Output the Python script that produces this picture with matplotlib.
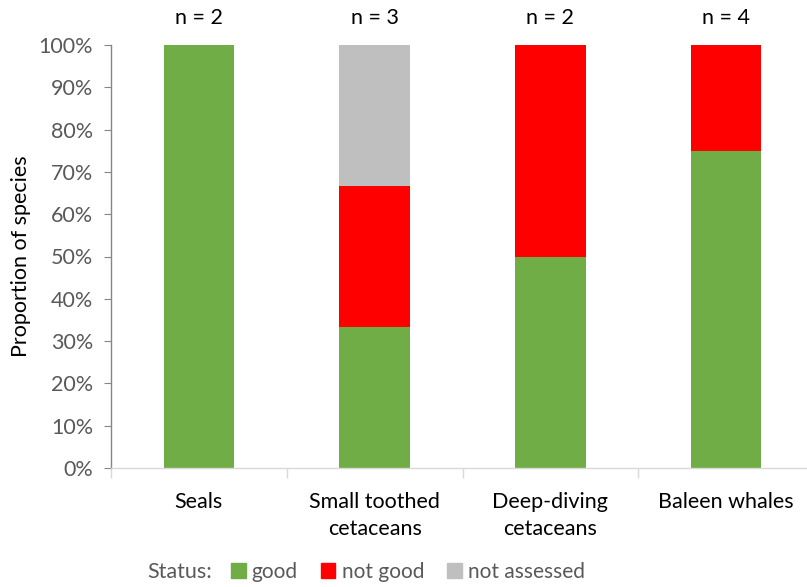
import numpy as np
import matplotlib.pyplot as plt
from matplotlib.patches import Patch
from matplotlib.ticker import PercentFormatter

plt.rcParams["font.family"] = ["Lato", "DejaVu Sans"]

# data
groups = ["Seals", "Small toothed\ncetaceans", "Deep-diving\ncetaceans", "Baleen whales"]
n_species = [2, 3, 2, 4]
good = [2 / 2, 1 / 3, 1 / 2, 3 / 4]
not_good = [0 / 2, 1 / 3, 1 / 2, 1 / 4]
not_assessed = [0 / 2, 1 / 3, 0 / 2, 0 / 4]

GREEN = "#70ad47"
RED = "#ff0000"
GREY = "#bfbfbf"
TXT = "#595959"
FS = 15.5

fig = plt.figure(figsize=(8.07, 5.87), dpi=100)
ax = fig.add_axes([111 / 807, 1 - 468 / 587, 703 / 807, 423 / 587])

x = np.arange(len(groups))
good = np.array(good)
not_good = np.array(not_good)
not_assessed = np.array(not_assessed)

ax.bar(x, good, width=0.4, color=GREEN)
ax.bar(x, not_good, width=0.4, bottom=good, color=RED)
ax.bar(x, not_assessed, width=0.4, bottom=good + not_good, color=GREY)

for xi, n in zip(x, n_species):
    ax.text(xi, 1.064, f"n = {n}", ha="center", va="center", fontsize=FS,
            color="black", transform=ax.get_xaxis_transform())

ax.set_xlim(-0.5, len(groups) - 0.5)
ax.set_ylim(0, 1)
ax.set_yticks(np.linspace(0, 1, 11))
ax.yaxis.set_major_formatter(PercentFormatter(1.0, decimals=0))
ax.set_ylabel("Proportion of species", fontsize=FS, color="black", labelpad=5)

ax.set_xticks(x)
ax.set_xticklabels(groups, fontsize=FS, color="black", linespacing=1.45)
ax.set_xticks(np.arange(len(groups) + 1) - 0.5, minor=True)
ax.tick_params(axis="x", which="major", length=0, pad=17)
ax.tick_params(axis="x", which="minor", length=7, color="#d9d9d9", width=1)
ax.tick_params(axis="y", length=5, color="#868686", labelsize=FS, labelcolor=TXT, pad=8)

for s in ["top", "right"]:
    ax.spines[s].set_visible(False)
ax.spines["left"].set_color("#868686")
ax.spines["bottom"].set_color("#d9d9d9")
ax.spines["left"].set_linewidth(1)
ax.spines["bottom"].set_linewidth(1)

# legend
fig.text(147 / 807, 1 - 572 / 587, "Status:", fontsize=FS, color=TXT, va="center")
handles = [Patch(color=GREEN, label="good"),
           Patch(color=RED, label="not good"),
           Patch(color=GREY, label="not assessed")]
leg = fig.legend(handles=handles, ncol=3, loc="center left",
                 bbox_to_anchor=(231 / 807, 1 - 572 / 587), frameon=False,
                 fontsize=15, handlelength=0.7, handleheight=0.7,
                 handletextpad=0.3, columnspacing=1.1, borderaxespad=0,
                 borderpad=0)
for t in leg.get_texts():
    t.set_color(TXT)

fig.savefig("out.png", dpi=100)
